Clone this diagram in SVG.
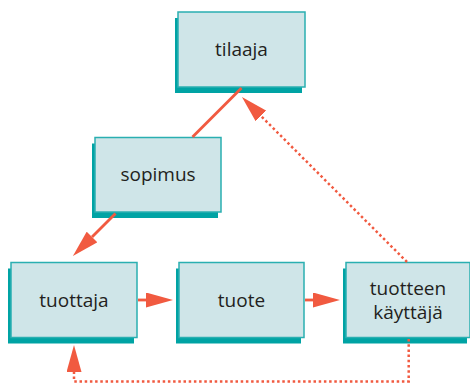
<svg xmlns="http://www.w3.org/2000/svg" width="470" height="383" viewBox="0 0 470 383">
  <style>
    .shadow { fill: #00a3a4; }
    .box { fill: #cfe5e8; stroke: #2aafb1; stroke-width: 1.5; }
    .label { font-family: "Open Sans", "Noto Sans", sans-serif; font-size: 19px; fill: #231f20; text-anchor: middle; }
    .solid { fill: none; stroke: #f15a40; stroke-width: 2.8; }
    .dotted { fill: none; stroke: #f15a40; stroke-width: 2.5; stroke-dasharray: 2.5 2.7; }
  </style>
  <defs>
    <marker id="arrow" markerUnits="userSpaceOnUse" viewBox="0 0 27 15" refX="0" refY="7.5" markerWidth="27" markerHeight="15" orient="auto">
      <path d="M0,0 L27,7.5 L0,15 Z" fill="#f15a40"/>
    </marker>
  </defs>

  <g id="tilaaja">
    <rect class="shadow" x="175" y="18" width="127" height="75"/>
    <rect class="box" x="178" y="12" width="127" height="75"/>
    <text class="label" x="241.5" y="55.5">tilaaja</text>
  </g>
  <g id="sopimus">
    <rect class="shadow" x="92" y="143.5" width="126" height="74.5"/>
    <rect class="box" x="95" y="137.5" width="126" height="74.5"/>
    <text class="label" x="158" y="180.5">sopimus</text>
  </g>
  <g id="tuottaja">
    <rect class="shadow" x="8" y="268.5" width="126" height="75"/>
    <rect class="box" x="11" y="262.5" width="126" height="75"/>
    <text class="label" x="74" y="306.5">tuottaja</text>
  </g>
  <g id="tuote">
    <rect class="shadow" x="176" y="268.5" width="125" height="75"/>
    <rect class="box" x="179" y="262.5" width="125" height="75"/>
    <text class="label" x="241.5" y="306.5">tuote</text>
  </g>
  <g id="tuotteen-kayttaja">
    <rect class="shadow" x="343" y="268.5" width="124" height="75"/>
    <rect class="box" x="346" y="262.5" width="124" height="75"/>
    <text class="label" x="408" y="295">tuotteen</text>
    <text class="label" x="408" y="318.5">käyttäjä</text>
  </g>

  <g id="connectors">
    <path class="solid" d="M241.5,88 L192.5,137"/>
    <path class="solid" d="M115.5,213.5 L92,237" marker-end="url(#arrow)"/>
    <path class="solid" d="M138,300 L146,300" marker-end="url(#arrow)"/>
    <path class="solid" d="M305,300 L313,300" marker-end="url(#arrow)"/>
    <path class="dotted" d="M407,262 L261,116" marker-end="url(#arrow)"/>
    <path class="dotted" d="M408.7,339 L408.7,381.5 L74,381.5 L74,372" marker-end="url(#arrow)"/>
  </g>
</svg>
